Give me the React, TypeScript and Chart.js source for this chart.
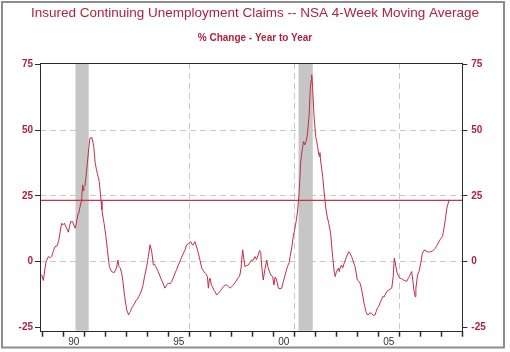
import React, { useEffect, useRef } from "react";
import { Chart, registerables } from "chart.js";

Chart.register(...registerables);

const TITLE = "Insured Continuing Unemployment Claims -- NSA 4-Week Moving Average";
const SUBTITLE = "% Change - Year to Year";

// decimal years and % change values
const dates: number[] = [
  1988.97, 1989.05, 1989.12, 1989.18, 1989.29, 1989.38, 1989.45, 1989.52, 1989.6, 1989.71,
  1989.78, 1989.84, 1989.92, 1989.98, 1990.05, 1990.16, 1990.24, 1990.3, 1990.35, 1990.44,
  1990.5, 1990.57, 1990.63, 1990.69, 1990.74, 1990.8, 1990.85, 1990.88, 1990.92, 1990.95,
  1990.98, 1991.03, 1991.08, 1991.16, 1991.22, 1991.27, 1991.32, 1991.36, 1991.41, 1991.45,
  1991.52, 1991.58, 1991.62, 1991.67, 1991.71, 1991.75, 1991.8, 1991.84, 1991.9, 1991.94,
  1992.03, 1992.1, 1992.19, 1992.3, 1992.42, 1992.53, 1992.6, 1992.65, 1992.72, 1992.78,
  1992.83, 1992.92, 1993.02, 1993.11, 1993.15, 1993.2, 1993.25, 1993.3, 1993.35, 1993.4,
  1993.45, 1993.49, 1993.54, 1993.59, 1993.68, 1993.78, 1993.87, 1993.97, 1994.05, 1994.13,
  1994.21, 1994.29, 1994.35, 1994.4, 1994.46, 1994.52, 1994.6, 1994.68, 1994.76, 1994.84,
  1994.92, 1995.0, 1995.08, 1995.16, 1995.24, 1995.32, 1995.4, 1995.48, 1995.6, 1995.72,
  1995.8, 1995.87, 1995.95, 1996.07, 1996.13, 1996.19, 1996.27, 1996.35, 1996.43, 1996.51,
  1996.59, 1996.67, 1996.75, 1996.82, 1996.86, 1996.91, 1996.95, 1996.99, 1997.05, 1997.1,
  1997.16, 1997.23, 1997.3, 1997.38, 1997.46, 1997.54, 1997.62, 1997.7, 1997.78, 1997.86,
  1997.94, 1998.02, 1998.1, 1998.18, 1998.26, 1998.34, 1998.41, 1998.47, 1998.54, 1998.6,
  1998.65, 1998.72, 1998.81, 1998.89, 1998.97, 1999.05, 1999.13, 1999.2, 1999.28, 1999.35,
  1999.4, 1999.45, 1999.52, 1999.6, 1999.69, 1999.74, 1999.8, 1999.88, 1999.97, 2000.03,
  2000.08, 2000.13, 2000.2, 2000.24, 2000.32, 2000.4, 2000.48, 2000.56, 2000.62, 2000.67,
  2000.76, 2000.8, 2000.88, 2000.95, 2001.0, 2001.06, 2001.11, 2001.16, 2001.22, 2001.27,
  2001.3, 2001.35, 2001.4, 2001.44, 2001.5, 2001.54, 2001.58, 2001.63, 2001.7, 2001.76,
  2001.8, 2001.83, 2001.87, 2001.94, 2002.02, 2002.06, 2002.11, 2002.16, 2002.19, 2002.22,
  2002.25, 2002.3, 2002.35, 2002.41, 2002.46, 2002.51, 2002.57, 2002.64, 2002.73, 2002.81,
  2002.89, 2002.95, 2003.0, 2003.05, 2003.1, 2003.14, 2003.2, 2003.25, 2003.3, 2003.38,
  2003.46, 2003.52, 2003.59, 2003.66, 2003.73, 2003.8, 2003.89, 2003.95, 2004.0, 2004.07,
  2004.13, 2004.19, 2004.24, 2004.32, 2004.41, 2004.46, 2004.52, 2004.6, 2004.68, 2004.76,
  2004.84, 2004.9, 2004.95, 2005.02, 2005.08, 2005.15, 2005.21, 2005.27, 2005.32, 2005.4,
  2005.48, 2005.56, 2005.64, 2005.71, 2005.76, 2005.8, 2005.85, 2005.9, 2005.96, 2006.03,
  2006.11, 2006.19, 2006.27, 2006.35, 2006.42, 2006.48, 2006.54, 2006.59, 2006.65, 2006.7,
  2006.75, 2006.79, 2006.84, 2006.87, 2006.94, 2007.02, 2007.1, 2007.21, 2007.27, 2007.33,
  2007.41, 2007.49, 2007.57, 2007.65, 2007.71, 2007.76, 2007.85, 2007.94, 2008.0, 2008.06,
  2008.14, 2008.2, 2008.25, 2008.3, 2008.33, 2008.37,
];

const values: number[] = [
  -5, -7.2, -3, 0, 1.9, 1.5, 2, 3.8, 5.7, 6,
  8, 10.8, 14.6, 14, 14.6, 12.7, 11.2, 13.5, 15.2, 15.2,
  13.9, 12.7, 15, 17.8, 18.5, 21, 22.8, 24.7, 29.2, 27,
  28.5, 29, 32.4, 38.7, 43.8, 47, 47.2, 47, 45.5, 43.8,
  37.4, 35, 33.6, 32, 30.5, 27.3, 23, 19.7, 16.5, 14.6,
  9.5, 4.5, -1.9, -3.8, -4.2, -2.5, 0.6, -1.9, -2.5, -4.5,
  -7, -13.3, -18.4, -20.3, -19.5, -19, -17.8, -17.1, -16.5, -15.8,
  -15, -14.6, -14.2, -13.3, -12, -9.5, -5.7, -1.9, 1.9, 6.4,
  3.8, -1.3, -1, -1.9, -2.8, -3.8, -5.5, -7, -8.5, -10.1,
  -9, -8.2, -8.5, -7.6, -6, -4.4, -3, -1.3, 1, 3.2,
  4.5, 6.4, 6.8, 7.6, 6.5, 6.4, 7.6, 5.5, 3.2, 0.5,
  -2.5, -3.5, -4.4, -5, -5.7, -10.1, -7, -6.3, -8.9, -9.5,
  -10.8, -11.5, -12.7, -12, -11.4, -10.5, -9.5, -9, -8.9, -9.5,
  -10.1, -9.5, -8.9, -8, -7, -6, -5.1, -2, 4.5, 1,
  -1.9, -1.5, -1.3, -0.3, 0.6, 0.6, 1.9, 0.8, 2.5, 4.2,
  3.5, -2, -7, -3, 0.6, -1.9, -3.5, -5.1, -5.7, -8.9,
  -6, -6.3, -8.5, -10.1, -10.3, -10.1, -7.5, -5.1, -3.5, -1.9,
  -0.3, 1.9, 5.5, 9.5, 11.5, 14, 16.5, 19.7, 25, 32.4,
  37.5, 41, 43.8, 45.7, 44.4, 45.5, 46.3, 48.9, 55.2, 65.4,
  69, 71.1, 66.6, 55.2, 47.6, 46, 43.8, 41, 40, 41.5,
  38.7, 35.5, 32.4, 27.3, 23.5, 19.7, 17, 14.6, 10.8, 3.2,
  -3.2, -5.7, -4, -3.2, -2.5, -3.8, -2, -1.3, -2.5, -0.5,
  1.3, 2.5, 3.8, 3, 1.9, 0.3, -1.9, -4.5, -7, -7.5,
  -8.2, -10, -12, -15.8, -19, -20, -20.3, -19.5, -19.7, -20.5,
  -20.3, -19, -17.8, -17, -15.8, -14.5, -13.3, -13.5, -12.7, -11.5,
  -10.8, -10.5, -10.1, -5.7, 1.3, 0, -2.5, -4.4, -5.5, -6.3,
  -6.5, -7, -7.2, -7.6, -6.5, -5.7, -4.5, -3.8, -7.6, -11,
  -13.3, -10.1, -7, -5.1, -3.8, -0.6, 3.2, 4.5, 4, 3.8,
  3.6, 3.8, 4, 4.5, 5, 5.7, 7, 8.3, 9, 9.5,
  13.3, 16.5, 19.7, 21.5, 22.2, 23.5,
];

const referenceLevel = 23.3;
const recessionStarts: number[] = [1990.58, 2001.2];
const recessionEnds: number[] = [1991.21, 2001.88];

const xMin = 1988.89;
const xMax = 2009;
const yMin = -26.3;
const yMax = 75.6;

const yearTicks: number[] = [1989, 1990, 1991, 1992, 1993, 1994, 1995, 1996, 1997, 1998, 1999, 2000, 2001, 2002, 2003, 2004, 2005, 2006, 2007, 2008, 2009];
const yearLabelPositions: number[] = [1990.5, 1995.5, 2000.5, 2005.5];
const yearLabels: string[] = ["90", "95", "00", "05"];
const xGridYears: number[] = [1991, 1996, 2001, 2006];
const yTicks: number[] = [-25, 0, 25, 50, 75];
const yGridValues: number[] = [0, 25, 50];

const RED = "#b0223c";
const LINE_RED = "#c22e46";
const GRID = "#c8c8c8";

const recessionPlugin = {
  id: "recessions",
  beforeDatasetsDraw(chart: any) {
    const { ctx, chartArea, scales } = chart;
    ctx.save();
    ctx.fillStyle = "#c6c6c6";
    for (let i = 0; i < recessionStarts.length; i++) {
      const x1 = scales.x.getPixelForValue(recessionStarts[i]);
      const x2 = scales.x.getPixelForValue(recessionEnds[i]);
      ctx.fillRect(x1, chartArea.top, x2 - x1, chartArea.bottom - chartArea.top);
    }
    ctx.restore();
  },
};

const framePlugin = {
  id: "frame",
  beforeDraw(chart: any) {
    const { ctx } = chart;
    ctx.save();
    ctx.fillStyle = "#ffffff";
    ctx.fillRect(0, 0, chart.width, chart.height);
    ctx.strokeStyle = "#8c8c8c";
    ctx.lineWidth = 2;
    ctx.strokeRect(2, 2, 502, 345.5);
    ctx.restore();
  },
  afterDatasetsDraw(chart: any) {
    const { ctx, chartArea } = chart;
    ctx.save();
    ctx.strokeStyle = "#2a2a2a";
    ctx.lineWidth = 1;
    const l = Math.round(chartArea.left) + 0.5;
    const r = Math.round(chartArea.right) + 0.5;
    const t = Math.round(chartArea.top) + 0.5;
    const b = Math.round(chartArea.bottom) + 0.5;
    ctx.strokeRect(l, t, r - l, b - t);
    ctx.restore();
  },
};

export default function App() {
  const ref = useRef<HTMLCanvasElement | null>(null);

  useEffect(() => {
    if (!ref.current) return;
    Chart.defaults.font.family = "'Liberation Sans', Arial, sans-serif";
    const points = dates.map((d, i) => ({ x: d, y: values[i] }));
    const yAxisCommon = (pos: "left" | "right", width: number, pad: number) => ({
      type: "linear" as const,
      position: pos,
      min: yMin,
      max: yMax,
      afterBuildTicks: (scale: any) => {
        scale.ticks = yTicks.map((v) => ({ value: v }));
      },
      afterFit: (scale: any) => {
        scale.width = width;
      },
      border: { display: false, dash: [6, 4] },
      grid: {
        drawOnChartArea: pos === "left",
        color: (c: any) => (c.tick && yGridValues.includes(c.tick.value) ? GRID : "rgba(0,0,0,0)"),
        tickColor: "#2a2a2a",
        tickLength: 5,
        lineWidth: 1,
      },
      ticks: {
        color: RED,
        font: { size: 10, weight: "bold" as const },
        padding: pad,
        autoSkip: false,
        callback: (v: any) => String(v),
      },
    });

    const chart = new Chart(ref.current, {
      type: "line",
      data: {
        datasets: [
          {
            data: points,
            borderColor: LINE_RED,
            borderWidth: 1,
            pointRadius: 0,
            tension: 0,
            fill: false,
          },
          {
            data: [
              { x: xMin, y: referenceLevel },
              { x: xMax, y: referenceLevel },
            ],
            borderColor: "#c8324a",
            borderWidth: 1.2,
            pointRadius: 0,
            fill: false,
          },
        ],
      },
      plugins: [recessionPlugin, framePlugin],
      options: {
        animation: false,
        responsive: false,
        maintainAspectRatio: false,
        layout: { padding: 0 },
        plugins: {
          legend: { display: false },
          tooltip: { enabled: false },
          title: {
            display: true,
            text: TITLE,
            color: RED,
            font: { size: 13.5, weight: "normal" },
            padding: { top: 5.4, bottom: 0 },
          },
          subtitle: {
            display: true,
            text: SUBTITLE,
            color: RED,
            font: { size: 10, weight: "bold" },
            padding: { top: 10.9, bottom: 18.5 },
          },
        },
        scales: {
          x: {
            type: "linear",
            position: "bottom",
            min: xMin,
            max: xMax,
            afterBuildTicks: (scale: any) => {
              scale.ticks = [
                ...yearTicks.map((v) => ({ value: v })),
                ...yearLabelPositions.map((v) => ({ value: v })),
              ];
            },
            afterFit: (scale: any) => {
              scale.height = 21.3;
            },
            border: { display: false, dash: [6, 4] },
            grid: {
              color: (c: any) => (c.tick && xGridYears.includes(c.tick.value) ? GRID : "rgba(0,0,0,0)"),
              tickColor: (c: any) => (c.tick && Number.isInteger(c.tick.value) ? "#2a2a2a" : "rgba(0,0,0,0)"),
              tickLength: 6,
              tickWidth: 1.5,
            },
            ticks: {
              color: "#333333",
              font: { size: 10 },
              padding: 0,
              autoSkip: false,
              maxRotation: 0,
              minRotation: 0,
              callback: (v: any) => {
                const idx = yearLabelPositions.indexOf(Number(v));
                return idx >= 0 ? yearLabels[idx] : "";
              },
            },
          },
          y: yAxisCommon("left", 40, 2) as any,
          y2: yAxisCommon("right", 47.7, 4) as any,
        },
      },
    });
    return () => chart.destroy();
  }, []);

  return (
    <div style={{ position: "absolute", left: 0, top: 0, width: 510, height: 352 }}>
      <canvas ref={ref} width={510} height={352} style={{ width: 510, height: 352, display: "block" }} />
    </div>
  );
}
